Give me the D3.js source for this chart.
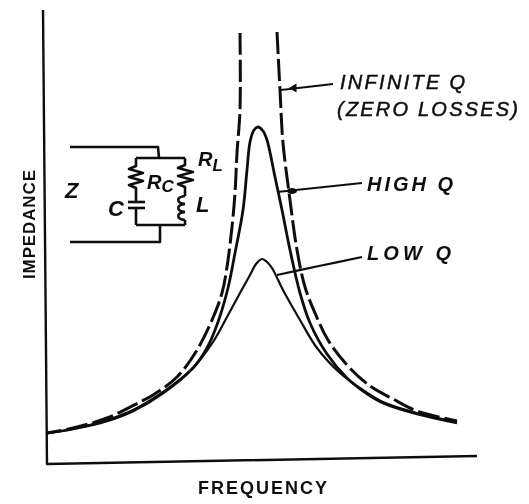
<!DOCTYPE html>
<html><head><meta charset="utf-8">
<script src="https://cdn.jsdelivr.net/npm/d3@7"></script>
<style>html,body{margin:0;padding:0;background:#fff}svg{display:block}
text{font-family:"Liberation Sans",sans-serif;fill:#111}</style></head>
<body><svg id="c" width="529" height="504"></svg>
<script>
// Values, in chart units (frequency to the right, impedance upward from the baseline)
const highQF=[0,26,60,86,116,146,160,171,181,188,196,200,203,207,211,216,220,228,235,243,253,263,280,300,316,336,370,410];
const highQZ=[31,35,43,53,71,96,116,142,176,211,254,294,322,334,337,333,324,287,254,214,171,141,110,86,73,61,50,41];
const lowQF=[0,26,60,86,116,146,166,180,193,203,209,215,220,225,236,253,270,293,313,336,370,410];
const lowQZ=[31,35,44,54,72,96,122,147,171,189,200,205,202,196,174,144,116,91,76,62,51,42];
const infLeftF=[193,193,190,188,185,180,175,165,150,130,106,93,60,26,0];
const infLeftZ=[431,354,311,271,237,197,171,144,114,87,69,62,46,36,31];
const infRightF=[230,233,236,243,250,258,268,281,300,323,346,370,410];
const infRightZ=[432,374,321,264,214,177,151,124,99,78,65,53,43];
const axisF=[-4,0,430];
const axisZ=[454,0,8];
const leadersF=[[234,286],[230,315],[230,272,315]];
const leadersZ=[[374,380],[272,281],[189,198,207]];
const seriesLabels=["INFINITE Q","(ZERO LOSSES)","HIGH Q","LOW Q"];
const axisLabels=["FREQUENCY","IMPEDANCE"];
const circuitLabels=["Z","C","L"];
// schematic wires
const wires=[
 [[23,317],[111,317],[112,306]],[[89,306],[138,306]],
 [[23,222],[113,222],[113,239]],[[89,239],[138,239]],
 [[89,306],[89,298],[82,295],[96,291],[82,287],[96,283],[82,279],[89,276],[89,262]],
 [[89,256],[89,239]],[[81,262],[98,262]],[[81,256],[98,256]],
 [[138,306],[138,299],[131,296],[146,292],[131,288],[146,284],[131,280],[138,277],[138,268]]
];
const coilF=[138,138,138,138];
const coilZ=[268,260,252,244];

const x0=47,y0=464;
const x=d3.scaleLinear().domain([0,430]).range([x0,x0+430]);
const y=d3.scaleLinear().domain([0,454]).range([y0,y0-454]);
const svg=d3.select("#c");
svg.append("defs").append("filter").attr("id","soft").append("feGaussianBlur").attr("stdDeviation",0.55);
const g=svg.append("g").attr("filter","url(#soft)");
const toPts=(f,z)=>f.map((v,i)=>[v,z[i]]);
const smooth=d3.line().x(d=>x(d[0])).y(d=>y(d[1])).curve(d3.curveCatmullRom.alpha(0.5));
const straight=d3.line().x(d=>x(d[0])).y(d=>y(d[1]));
const stroke=(d,w,dash,fn=straight)=>g.append("path").attr("d",fn(d)).attr("fill","none").attr("stroke","#111")
 .attr("stroke-width",w).attr("stroke-linecap","butt").attr("stroke-linejoin","round").attr("stroke-dasharray",dash||null);

stroke(toPts(axisF,axisZ),2.4);
stroke(toPts(highQF,highQZ),2.8,null,smooth);
stroke(toPts(lowQF,lowQZ),2.2,null,smooth);
stroke(toPts(infLeftF,infLeftZ),3,"22 5",smooth);
stroke(toPts(infRightF,infRightZ),3,"22 5",smooth);
leadersF.forEach((f,i)=>stroke(toPts(f,leadersZ[i]),2.2,null,smooth));
g.append("path").attr("d",d3.symbol(d3.symbolTriangle,34)).attr("fill","#111")
 .attr("transform",`translate(${x(247)},${y(376)}) rotate(-90)`);
g.append("ellipse").attr("cx",x(245)).attr("cy",y(273)).attr("rx",5).attr("ry",3).attr("fill","#111");
wires.forEach(w=>stroke(w,2.6));
coilF.slice(0,-1).forEach((f,i)=>{
  const a=[x(f),y(coilZ[i])],b=[x(f),y(coilZ[i+1])];
  g.append("path").attr("d",`M${a[0]},${a[1]}C${a[0]-9},${a[1]+1} ${b[0]-9},${b[1]-1} ${b[0]},${b[1]}`)
   .attr("fill","none").attr("stroke","#111").attr("stroke-width",2.6);
});
stroke([[138,244],[138,239]],2.6);
const label=(t,px,py,size,opt={})=>{
 const el=g.append("text").attr("x",px).attr("y",py).attr("font-size",size)
  .attr("font-style",opt.style||"italic").attr("font-weight",opt.weight||"bold").text(t);
 if(opt.len) el.attr("textLength",opt.len).attr("lengthAdjust","spacing");
 if(opt.rotate) el.attr("transform",`rotate(${opt.rotate} ${px} ${py})`);
 return el;
};
label(seriesLabels[0],340,89,20,{len:125,weight:"normal"}).attr("stroke","#111").attr("stroke-width",0.5);
label(seriesLabels[1],337,116,20,{len:181,weight:"normal"}).attr("stroke","#111").attr("stroke-width",0.5);
label(seriesLabels[2],367,191,20,{len:86});
label(seriesLabels[3],367,260,20,{len:84});
label(axisLabels[0],198,494,18,{style:"normal",len:129});
label(axisLabels[1],35,279,17,{style:"normal",len:109,rotate:-90});
label(circuitLabels[0],65,198,22);
label(circuitLabels[1],108,216,22);
label(circuitLabels[2],196,212,22);
const rc=label("R",147,189,20);rc.append("tspan").attr("dy",3).attr("font-size",17).text("C");
const rl=label("R",198,166,20);rl.append("tspan").attr("dy",5).attr("font-size",17).text("L");
</script></body></html>
